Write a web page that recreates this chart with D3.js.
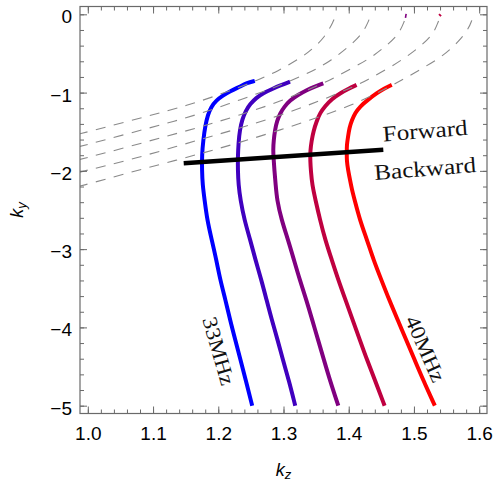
<!DOCTYPE html>
<html>
<head>
<meta charset="utf-8">
<script src="https://cdn.jsdelivr.net/npm/d3@7"></script>
<style>
  html, body { margin: 0; padding: 0; background: #ffffff; }
  svg { display: block; }
</style>
</head>
<body>
<svg id="chart" width="494" height="481"></svg>
<script>
// ---- Dispersion branches k_y(k_z), one per frequency, [kz, ky] ----
const branch33 = [[1.256,-0.850],[1.244,-0.877],[1.233,-0.924],[1.218,-0.985],[1.207,-1.037],[1.197,-1.100],[1.189,-1.183],[1.184,-1.286],[1.180,-1.426],[1.177,-1.605],[1.175,-1.796],[1.175,-1.988],[1.176,-2.179],[1.179,-2.371],[1.183,-2.626],[1.190,-2.882],[1.197,-3.137],[1.203,-3.393],[1.211,-3.648],[1.218,-3.903],[1.226,-4.159],[1.234,-4.414],[1.242,-4.670],[1.252,-5.0]];
const branch34 = [[1.310,-0.860],[1.295,-0.909],[1.282,-0.957],[1.269,-1.005],[1.258,-1.068],[1.249,-1.145],[1.242,-1.234],[1.237,-1.337],[1.233,-1.477],[1.231,-1.643],[1.230,-1.822],[1.230,-1.988],[1.231,-2.179],[1.234,-2.371],[1.240,-2.626],[1.249,-2.882],[1.257,-3.137],[1.266,-3.393],[1.274,-3.648],[1.282,-3.903],[1.291,-4.159],[1.299,-4.414],[1.308,-4.670],[1.318,-5.0]];
const branch36 = [[1.361,-0.881],[1.348,-0.922],[1.336,-0.966],[1.322,-1.030],[1.310,-1.100],[1.301,-1.183],[1.295,-1.264],[1.290,-1.362],[1.287,-1.477],[1.285,-1.605],[1.284,-1.733],[1.285,-1.860],[1.286,-1.988],[1.288,-2.179],[1.290,-2.371],[1.297,-2.626],[1.307,-2.882],[1.316,-3.137],[1.325,-3.393],[1.335,-3.648],[1.344,-3.903],[1.353,-4.159],[1.362,-4.414],[1.371,-4.670],[1.384,-5.0]];
const branch38 = [[1.412,-0.902],[1.399,-0.954],[1.387,-1.008],[1.374,-1.081],[1.364,-1.171],[1.356,-1.260],[1.351,-1.362],[1.346,-1.490],[1.343,-1.618],[1.341,-1.745],[1.341,-1.873],[1.342,-2.001],[1.344,-2.179],[1.349,-2.371],[1.356,-2.626],[1.364,-2.882],[1.374,-3.137],[1.384,-3.393],[1.395,-3.648],[1.406,-3.903],[1.417,-4.159],[1.428,-4.414],[1.440,-4.670],[1.455,-5.0]];
const branch40 = [[1.466,-0.902],[1.454,-0.947],[1.443,-1.008],[1.430,-1.088],[1.417,-1.180],[1.410,-1.260],[1.405,-1.349],[1.401,-1.452],[1.399,-1.563],[1.397,-1.669],[1.397,-1.771],[1.397,-1.873],[1.399,-1.988],[1.402,-2.116],[1.405,-2.243],[1.409,-2.371],[1.417,-2.626],[1.428,-2.882],[1.438,-3.137],[1.450,-3.393],[1.462,-3.648],[1.475,-3.903],[1.488,-4.159],[1.501,-4.414],[1.514,-4.670],[1.532,-5.0]];

// short isolated pieces of two branches close to ky = 0
const stub36 = [[1.488,0.005],[1.487,-0.045]];
const stub38 = [[1.541,-0.002],[1.539,-0.018]];

// ---- Dashed light-line curves, one per frequency ----
const light33 = [[0.985,-1.532],[1.001,-1.499],[1.093,-1.298],[1.152,-1.167],[1.208,-1.008],[1.256,-0.858],[1.292,-0.724],[1.325,-0.564],[1.343,-0.455],[1.364,-0.286],[1.376,-0.098],[1.381,0]];
const light34 = [[0.985,-1.694],[1.001,-1.660],[1.060,-1.528],[1.118,-1.400],[1.175,-1.264],[1.233,-1.094],[1.290,-0.924],[1.325,-0.796],[1.348,-0.711],[1.374,-0.583],[1.397,-0.434],[1.420,-0.264],[1.430,-0.098],[1.434,0]];
const light36 = [[0.985,-1.860],[1.001,-1.826],[1.060,-1.698],[1.118,-1.563],[1.175,-1.435],[1.233,-1.286],[1.295,-1.116],[1.361,-0.881],[1.376,-0.817],[1.405,-0.689],[1.433,-0.561],[1.456,-0.413],[1.476,-0.264],[1.485,-0.098],[1.489,0]];
const light38 = [[0.985,-2.022],[1.001,-1.988],[1.060,-1.869],[1.118,-1.732],[1.177,-1.588],[1.233,-1.455],[1.295,-1.292],[1.356,-1.107],[1.412,-0.909],[1.428,-0.839],[1.458,-0.704],[1.484,-0.570],[1.509,-0.417],[1.530,-0.251],[1.537,-0.098],[1.542,0]];
const light40 = [[0.985,-2.199],[1.001,-2.167],[1.031,-2.098],[1.060,-2.030],[1.118,-1.902],[1.177,-1.771],[1.233,-1.637],[1.295,-1.477],[1.356,-1.311],[1.417,-1.120],[1.463,-0.924],[1.491,-0.796],[1.517,-0.669],[1.543,-0.541],[1.566,-0.370],[1.583,-0.200],[1.589,-0.072],[1.592,0]];

// ---- Forward / backward separation line ----
const boundary = [[1.147,-1.902],[1.453,-1.730]];

// ---- Annotations: [text, kz, ky] ----
const regionLabels = [["Forward", 1.453, -1.624], ["Backward", 1.440, -2.116]];
const freqLabels = [["33MHz", 1.201, -4.299], ["40MHz", 1.518, -4.274]];

// ---- Ticks ----
const xTicks = [1.0, 1.1, 1.2, 1.3, 1.4, 1.5, 1.6];
const yTicks = [-5, -4, -3, -2, -1, 0];
const xMinorTicks = d3.range(1.0, 1.6001, 0.02);
const yMinorTicks = d3.range(-5, 0.0001, 0.2);

const branches = [branch33, branch34, branch36, branch38, branch40];
const branchColors = ["#0000ff", "#4000bf", "#800080", "#bf0040", "#ff0000"];
const lights = [light33, light34, light36, light38, light40];

// ---- Layout ----
const svg = d3.select("#chart");
const plotLeft = 80, plotRight = 487, plotTop = 6.5, plotBottom = 413.5;
const x = d3.scaleLinear().domain([0.988, 1.612]).range([plotLeft, plotRight]);
const y = d3.scaleLinear().domain([-5.1, 0.1]).range([plotBottom, plotTop]);
const frameColor = "#6a6a6a";

svg.append("defs").append("clipPath").attr("id", "plotArea")
  .append("rect").attr("x", plotLeft).attr("y", plotTop)
  .attr("width", plotRight - plotLeft).attr("height", plotBottom - plotTop);

const line = d3.line()
  .x(d => x(d[0])).y(d => y(d[1]))
  .curve(d3.curveBasis);

const plot = svg.append("g").attr("clip-path", "url(#plotArea)");

// frequency branches
plot.selectAll("path.branch").data(branches).join("path")
  .attr("class", "branch")
  .attr("d", line)
  .attr("fill", "none")
  .attr("stroke", (d, i) => branchColors[i])
  .attr("stroke-width", 4);

plot.append("path").attr("d", line(stub36))
  .attr("fill", "none").attr("stroke", branchColors[2]).attr("stroke-width", 1.6);
plot.append("path").attr("d", line(stub38))
  .attr("fill", "none").attr("stroke", branchColors[3]).attr("stroke-width", 3);

// light lines (dashed)
plot.selectAll("path.light").data(lights).join("path")
  .attr("class", "light")
  .attr("d", line)
  .attr("fill", "none")
  .attr("stroke", "#8a8a8a")
  .attr("stroke-width", 1.1)
  .attr("stroke-dasharray", "10,8.5");

// forward/backward boundary
plot.append("path")
  .attr("d", d3.line().x(d => x(d[0])).y(d => y(d[1]))(boundary))
  .attr("fill", "none").attr("stroke", "#000").attr("stroke-width", 4.6);

// ---- Axes: frame with inward ticks on all four sides ----
function styleAxis(g) {
  g.select(".domain").remove();
  g.attr("color", frameColor);
  g.selectAll("text").attr("fill", "#000");
}
const fontSans = "'Liberation Sans', Arial, sans-serif";

svg.append("g").attr("transform", `translate(0,${plotBottom})`)
  .call(d3.axisBottom(x).tickValues(xTicks).tickSize(-7).tickPadding(13.5).tickFormat(d3.format(".1f")))
  .call(styleAxis)
  .call(g => g.selectAll("text").attr("font-family", fontSans).attr("font-size", 19));
svg.append("g").attr("transform", `translate(0,${plotBottom})`)
  .call(d3.axisBottom(x).tickValues(xMinorTicks).tickSize(-4).tickFormat(""))
  .call(styleAxis);

svg.append("g").attr("transform", `translate(0,${plotTop})`)
  .call(d3.axisTop(x).tickValues(xTicks).tickSize(-7).tickFormat(""))
  .call(styleAxis);
svg.append("g").attr("transform", `translate(0,${plotTop})`)
  .call(d3.axisTop(x).tickValues(xMinorTicks).tickSize(-4).tickFormat(""))
  .call(styleAxis);

svg.append("g").attr("transform", `translate(${plotLeft},0)`)
  .call(d3.axisLeft(y).tickValues(yTicks).tickSize(-7).tickPadding(8).tickFormat(d3.format("d")))
  .call(styleAxis)
  .call(g => g.selectAll("text").attr("font-family", fontSans).attr("font-size", 19).attr("dy", "0.45em"));
svg.append("g").attr("transform", `translate(${plotLeft},0)`)
  .call(d3.axisLeft(y).tickValues(yMinorTicks).tickSize(-4).tickFormat(""))
  .call(styleAxis);

svg.append("g").attr("transform", `translate(${plotRight},0)`)
  .call(d3.axisRight(y).tickValues(yTicks).tickSize(-7).tickFormat(""))
  .call(styleAxis);
svg.append("g").attr("transform", `translate(${plotRight},0)`)
  .call(d3.axisRight(y).tickValues(yMinorTicks).tickSize(-4).tickFormat(""))
  .call(styleAxis);

svg.append("rect")
  .attr("x", plotLeft).attr("y", plotTop)
  .attr("width", plotRight - plotLeft).attr("height", plotBottom - plotTop)
  .attr("fill", "none").attr("stroke", frameColor).attr("stroke-width", 1.2);

// ---- Axis titles ----
const kzTitle = svg.append("text")
  .attr("x", (plotLeft + plotRight) / 2).attr("y", 476)
  .attr("text-anchor", "middle")
  .attr("font-family", fontSans).attr("font-size", 18).attr("fill", "#000");
kzTitle.append("tspan").attr("font-style", "italic").text("k");
kzTitle.append("tspan").attr("font-style", "italic").attr("font-size", 13).attr("dy", 2.5).text("z");

const kyTitle = svg.append("text")
  .attr("transform", `translate(23,${(plotTop + plotBottom) / 2}) rotate(-90)`)
  .attr("text-anchor", "middle")
  .attr("font-family", fontSans).attr("font-size", 18).attr("fill", "#000");
kyTitle.append("tspan").attr("font-style", "italic").text("k");
kyTitle.append("tspan").attr("font-style", "italic").attr("font-size", 13).attr("dy", 3).text("y");

// ---- Annotations ----
const fontSerif = "'Liberation Serif', 'Times New Roman', serif";
const regionWidths = [85, 102];
regionLabels.forEach(([t, a, b], i) => {
  svg.append("text")
    .attr("transform", `translate(${x(a)},${y(b)}) rotate(-4.5)`)
    .attr("font-family", fontSerif).attr("font-size", 22).attr("fill", "#111")
    .attr("textLength", regionWidths[i]).attr("lengthAdjust", "spacingAndGlyphs")
    .text(t);
});

const freqAngles = [74, 66];
freqLabels.forEach(([t, a, b], i) => {
  svg.append("text")
    .attr("transform", `translate(${x(a)},${y(b)}) rotate(${freqAngles[i]})`)
    .attr("text-anchor", "middle").attr("dy", "0.35em")
    .attr("font-family", fontSerif).attr("font-size", 21).attr("fill", "#111")
    .attr("textLength", 70).attr("lengthAdjust", "spacingAndGlyphs")
    .text(t);
});
</script>
</body>
</html>
